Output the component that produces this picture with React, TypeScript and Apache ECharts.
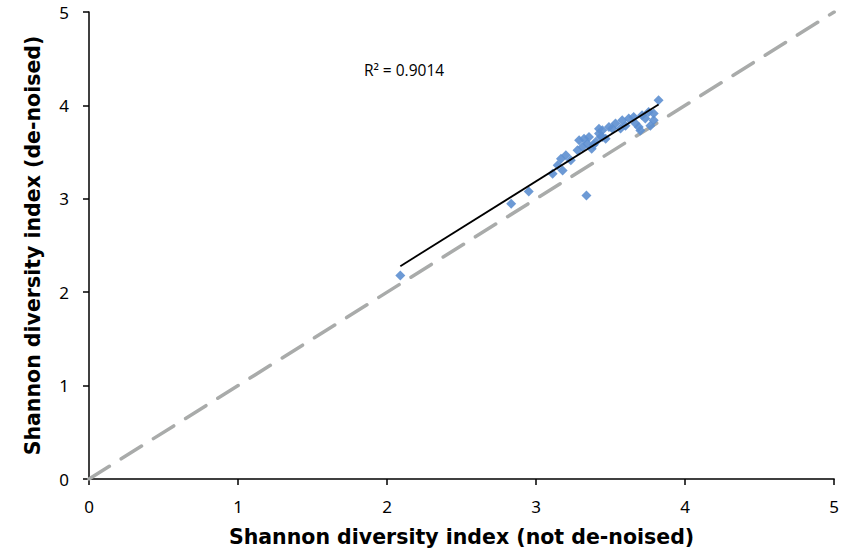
import React, { useEffect, useRef } from "react";
import * as echarts from "echarts";

const xNotDenoised = [
  2.089, 2.833, 2.951, 3.338, 3.111, 3.145, 3.167, 3.2, 3.233, 3.178, 3.278, 3.289,
  3.311, 3.322, 3.345, 3.355, 3.4, 3.422, 3.433, 3.422, 3.445, 3.445, 3.489, 3.511,
  3.533, 3.578, 3.622, 3.655, 3.689, 3.711, 3.733, 3.755, 3.789, 3.789, 3.822, 3.373,
  3.467, 3.567, 3.667, 3.6, 3.387, 3.7, 3.767,
];
const yDenoised = [
  2.179, 2.947, 3.079, 3.036, 3.269, 3.358, 3.43, 3.465, 3.412, 3.304, 3.519, 3.626,
  3.555, 3.644, 3.59, 3.662, 3.609, 3.751, 3.662, 3.698, 3.733, 3.662, 3.77, 3.752,
  3.805, 3.84, 3.859, 3.877, 3.77, 3.894, 3.859, 3.93, 3.912, 3.84, 4.055, 3.537,
  3.644, 3.752, 3.805, 3.783, 3.58, 3.73, 3.783,
];
const rSquaredLabel = "R² = 0.9014";
const axisTicks = [0, 1, 2, 3, 4, 5];

export default function App() {
  const ref = useRef<HTMLDivElement>(null);
  useEffect(() => {
    if (!ref.current) return;
    const chart = echarts.init(ref.current, undefined, { renderer: "svg" });
    const pts = xNotDenoised.map((x, i) => [x, yDenoised[i]]);
    const n = pts.length;
    const mx = xNotDenoised.reduce((a, b) => a + b, 0) / n;
    const my = yDenoised.reduce((a, b) => a + b, 0) / n;
    let sxy = 0, sxx = 0;
    for (let i = 0; i < n; i++) {
      sxy += (xNotDenoised[i] - mx) * (yDenoised[i] - my);
      sxx += (xNotDenoised[i] - mx) ** 2;
    }
    const slope = sxy / sxx;
    const icpt = my - slope * mx;
    const xmin = Math.min(...xNotDenoised);
    const xmax = Math.max(...xNotDenoised);
    const trend = [[xmin, icpt + slope * xmin], [xmax, icpt + slope * xmax]];
    const lo = axisTicks[0];
    const hi = axisTicks[axisTicks.length - 1];
    const titleFont = "DejaVu Sans";
    const tickFont = "Noto Sans";
    chart.setOption({
      animation: false,
      grid: { left: 89, top: 12, width: 750, height: 467, containLabel: false },
      xAxis: {
        type: "value", min: lo, max: hi, interval: 1,
        name: "Shannon diversity index (not de-noised)",
        nameLocation: "middle", nameGap: 47,
        nameTextStyle: { fontFamily: titleFont, fontWeight: "bold", fontSize: 20.5, color: "#000" },
        axisLine: { lineStyle: { color: "#000", width: 1.5 } },
        axisTick: { show: true, length: 6, lineStyle: { color: "#000", width: 1.5 } },
        axisLabel: { fontFamily: tickFont, fontSize: 17, color: "#000", margin: 19 },
        splitLine: { show: false },
      },
      yAxis: {
        type: "value", min: lo, max: hi, interval: 1,
        name: "Shannon diversity index (de-noised)",
        nameLocation: "middle", nameGap: 46, nameRotate: 90,
        nameTextStyle: { fontFamily: titleFont, fontWeight: "bold", fontSize: 20.5, color: "#000" },
        axisLine: { lineStyle: { color: "#000", width: 1.5 } },
        axisTick: { show: true, length: 6, lineStyle: { color: "#000", width: 1.5 } },
        axisLabel: { fontFamily: tickFont, fontSize: 17, color: "#000", margin: 20 },
        splitLine: { show: false },
      },
      series: [
        {
          type: "line",
          data: [[lo, lo], [hi, hi]],
          symbol: "none",
          lineStyle: { color: "#a9abaa", width: 3.5, type: [24, 14], cap: "round" },
          z: 1,
        },
        {
          type: "scatter",
          data: pts,
          symbol: "diamond",
          symbolSize: 10,
          itemStyle: { color: "#5d8fd0", opacity: 0.9 },
          z: 2,
        },
        {
          type: "line",
          data: trend,
          symbol: "none",
          lineStyle: { color: "#000", width: 1.8 },
          z: 3,
        },
      ],
      graphic: [
        {
          type: "text",
          x: 404, y: 70,
          style: {
            text: rSquaredLabel,
            fontFamily: "Open Sans", fontSize: 15.5, fill: "#000",
            align: "center", verticalAlign: "middle",
          },
        },
      ],
    });
    return () => chart.dispose();
  }, []);
  return <div ref={ref} style={{ width: 842, height: 554, position: "absolute", left: 0, top: 0 }} />;
}
